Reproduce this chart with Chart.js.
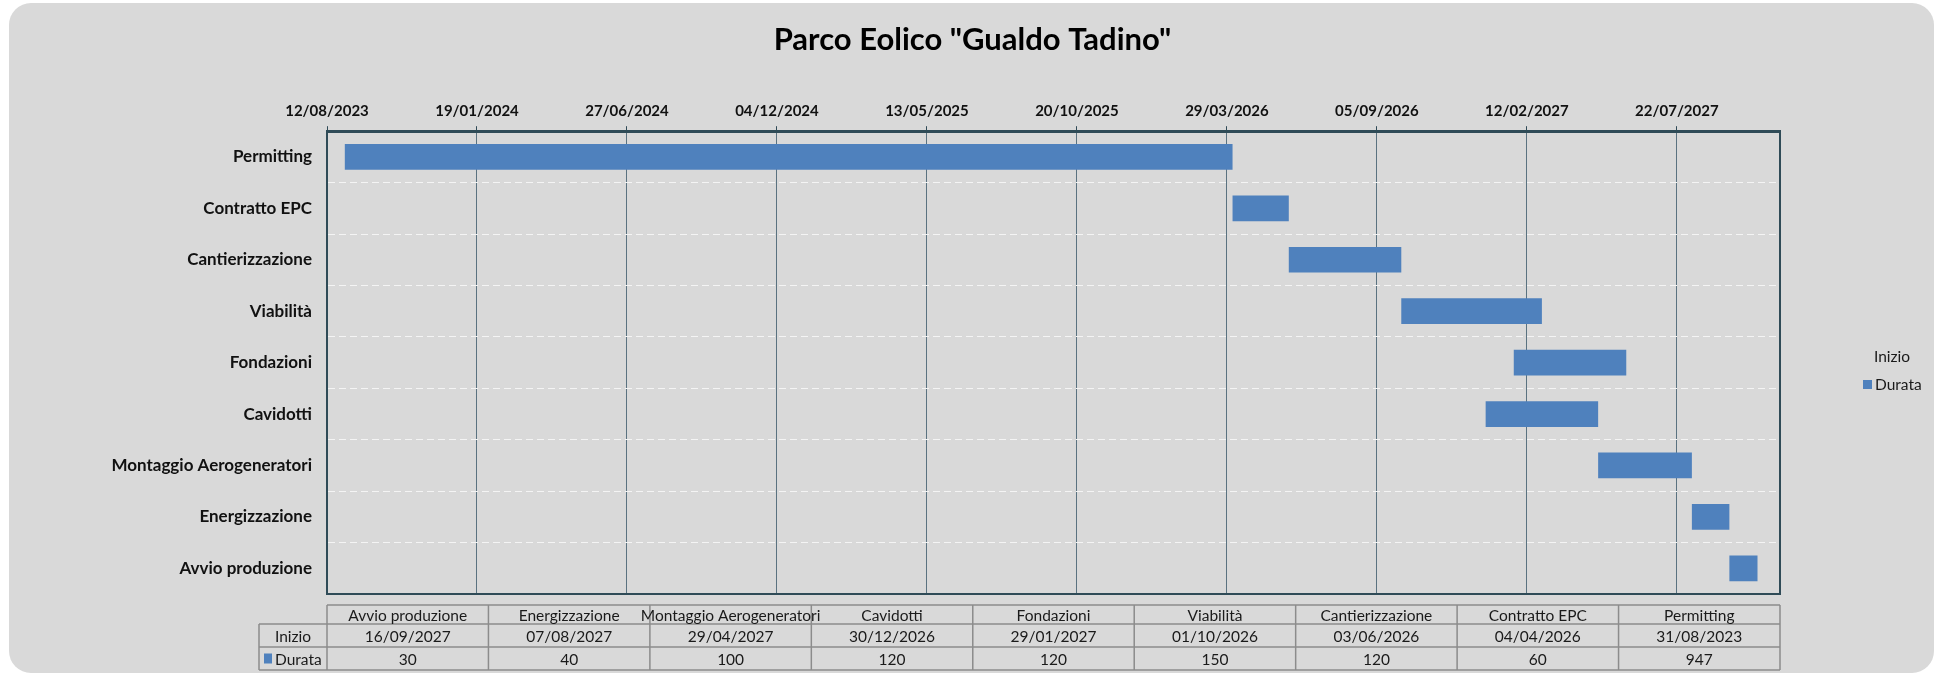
<!DOCTYPE html>
<html>
<head>
<meta charset="utf-8">
<script src="https://cdn.jsdelivr.net/npm/chart.js@4.4.1/dist/chart.umd.min.js"></script>
<style>
  body { margin: 0; background: #ffffff; }
  #box { position: absolute; left: 9px; top: 3px; width: 1925px; height: 670px; background: #d9d9d9; border-radius: 22px; }
  #gantt { position: absolute; left: 0; top: 0; }
</style>
</head>
<body>
<div id="box"></div>
<canvas id="gantt" width="1945" height="676"></canvas>
<script>
"use strict";

// data (Excel order: first category at the bottom)
var categories = ['Avvio produzione', 'Energizzazione', 'Montaggio Aerogeneratori', 'Cavidotti', 'Fondazioni', 'Viabilità', 'Cantierizzazione', 'Contratto EPC', 'Permitting'];
var startDates = ['16/09/2027', '07/08/2027', '29/04/2027', '30/12/2026', '29/01/2027', '01/10/2026', '03/06/2026', '04/04/2026', '31/08/2023'];
var durations = [30, 40, 100, 120, 120, 150, 120, 60, 947];
var axisStart = '12/08/2023';
var axisSpanDays = 1550;
var tickStepDays = 160;

function toDay(s) {
  var p = s.split('/');
  return Date.UTC(+p[2], +p[1] - 1, +p[0]) / 86400000;
}
function fromDay(v) {
  var d = new Date(v * 86400000);
  var dd = String(d.getUTCDate()).padStart(2, '0');
  var mm = String(d.getUTCMonth() + 1).padStart(2, '0');
  return dd + '/' + mm + '/' + d.getUTCFullYear();
}

var starts = startDates.map(toDay);
var minDay = toDay(axisStart);
var maxDay = minDay + axisSpanDays;

var blue = '#4f81bd';
var dark = '#2f4b57';

// legend at the right + data table under the plot
var extras = {
  id: 'extras',
  afterDraw: function (chart) {
    var ctx = chart.ctx;
    var a = chart.chartArea;
    var n = categories.length;
    var colW = (a.right - a.left) / n;
    var rows = [605, 624, 647, 670];
    var labelLeft = a.left - 68;

    ctx.save();
    // plot frame right / bottom
    ctx.strokeStyle = dark;
    ctx.lineWidth = 2;
    ctx.beginPath();
    ctx.moveTo(a.right, a.top);
    ctx.lineTo(a.right, a.bottom);
    ctx.lineTo(a.left, a.bottom);
    ctx.stroke();

    // table grid
    ctx.strokeStyle = '#8c8c8c';
    ctx.lineWidth = 1.5;
    ctx.beginPath();
    ctx.moveTo(a.left, rows[0]);
    ctx.lineTo(a.right, rows[0]);
    for (var r = 1; r < rows.length; r++) {
      ctx.moveTo(labelLeft, rows[r]);
      ctx.lineTo(a.right, rows[r]);
    }
    for (var k = 0; k <= n; k++) {
      var x = a.left + k * colW;
      ctx.moveTo(x, rows[0]);
      ctx.lineTo(x, rows[3]);
    }
    ctx.moveTo(labelLeft, rows[1]);
    ctx.lineTo(labelLeft, rows[3]);
    ctx.stroke();

    // table text
    ctx.fillStyle = '#1a1a1a';
    ctx.font = '15.5px Lato';
    ctx.textAlign = 'center';
    ctx.textBaseline = 'middle';
    for (var i = 0; i < n; i++) {
      var cx = a.left + (i + 0.5) * colW;
      ctx.fillText(categories[i], cx, (rows[0] + rows[1]) / 2 + 1);
      ctx.fillText(startDates[i], cx, (rows[1] + rows[2]) / 2 + 1);
      ctx.fillText(String(durations[i]), cx, (rows[2] + rows[3]) / 2 + 1);
    }
    ctx.fillText(chart.data.datasets[0].label, (labelLeft + a.left) / 2, (rows[1] + rows[2]) / 2 + 1);
    ctx.textAlign = 'left';
    ctx.fillText(chart.data.datasets[1].label, labelLeft + 16, (rows[2] + rows[3]) / 2 + 1);
    ctx.fillStyle = blue;
    ctx.fillRect(labelLeft + 5, (rows[2] + rows[3]) / 2 - 5, 8, 10);

    // legend
    ctx.fillStyle = '#1a1a1a';
    ctx.fillText(chart.data.datasets[0].label, 1874, 357);
    ctx.fillText(chart.data.datasets[1].label, 1875, 385);
    ctx.fillStyle = blue;
    ctx.fillRect(1863, 380, 9, 9);
    ctx.restore();
  }
};

var ctx = document.getElementById('gantt').getContext('2d');
var myChart = new Chart(ctx, {
  type: 'bar',
  data: {
    labels: categories,
    datasets: [{
      label: 'Inizio',
      data: starts,
      backgroundColor: 'rgba(0,0,0,0)',
      categoryPercentage: 1,
      barPercentage: 0.5
    }, {
      label: 'Durata',
      data: durations,
      backgroundColor: blue,
      categoryPercentage: 1,
      barPercentage: 0.5
    }]
  },
  options: {
    indexAxis: 'y',
    responsive: false,
    animation: false,
    layout: {
      padding: { left: 10, right: 10, top: 0, bottom: 82 }
    },
    scales: {
      x: {
        position: 'top',
        stacked: true,
        min: minDay,
        max: maxDay,
        afterBuildTicks: function (scale) {
          var t = [];
          for (var v = minDay; v <= maxDay; v += tickStepDays) t.push({ value: v });
          scale.ticks = t;
        },
        afterFit: function (scale) { scale.height = 32; },
        ticks: {
          color: '#111111',
          font: { family: 'Lato', size: 15, weight: 'bold' },
          padding: 6,
          maxRotation: 0,
          callback: function (v) { return fromDay(v); }
        },
        grid: { color: '#5a7280', lineWidth: 1, tickLength: 5, tickColor: dark },
        border: { color: dark, width: 3 }
      },
      y: {
        stacked: true,
        reverse: true,
        afterFit: function (scale) { scale.width = 317; },
        ticks: {
          color: '#111111',
          font: { family: 'Lato', size: 17, weight: 'bold' },
          padding: 15
        },
        grid: { color: '#f4f4f4', lineWidth: 1, drawTicks: false },
        border: { color: dark, width: 2, dash: [7, 4] }
      },
      // empty space on the right where the legend sits
      gap: {
        type: 'linear',
        position: 'right',
        grid: { display: false },
        ticks: { display: false },
        border: { display: false },
        afterFit: function (scale) { scale.width = 155; }
      }
    },
    plugins: {
      legend: { display: false },
      tooltip: { enabled: false },
      title: {
        display: true,
        text: 'Parco Eolico "Gualdo Tadino"',
        color: '#000000',
        font: { family: 'Lato', size: 31, weight: 'bold' },
        padding: { top: 21, bottom: 41 }
      }
    }
  },
  plugins: [extras]
});
</script>
</body>
</html>
